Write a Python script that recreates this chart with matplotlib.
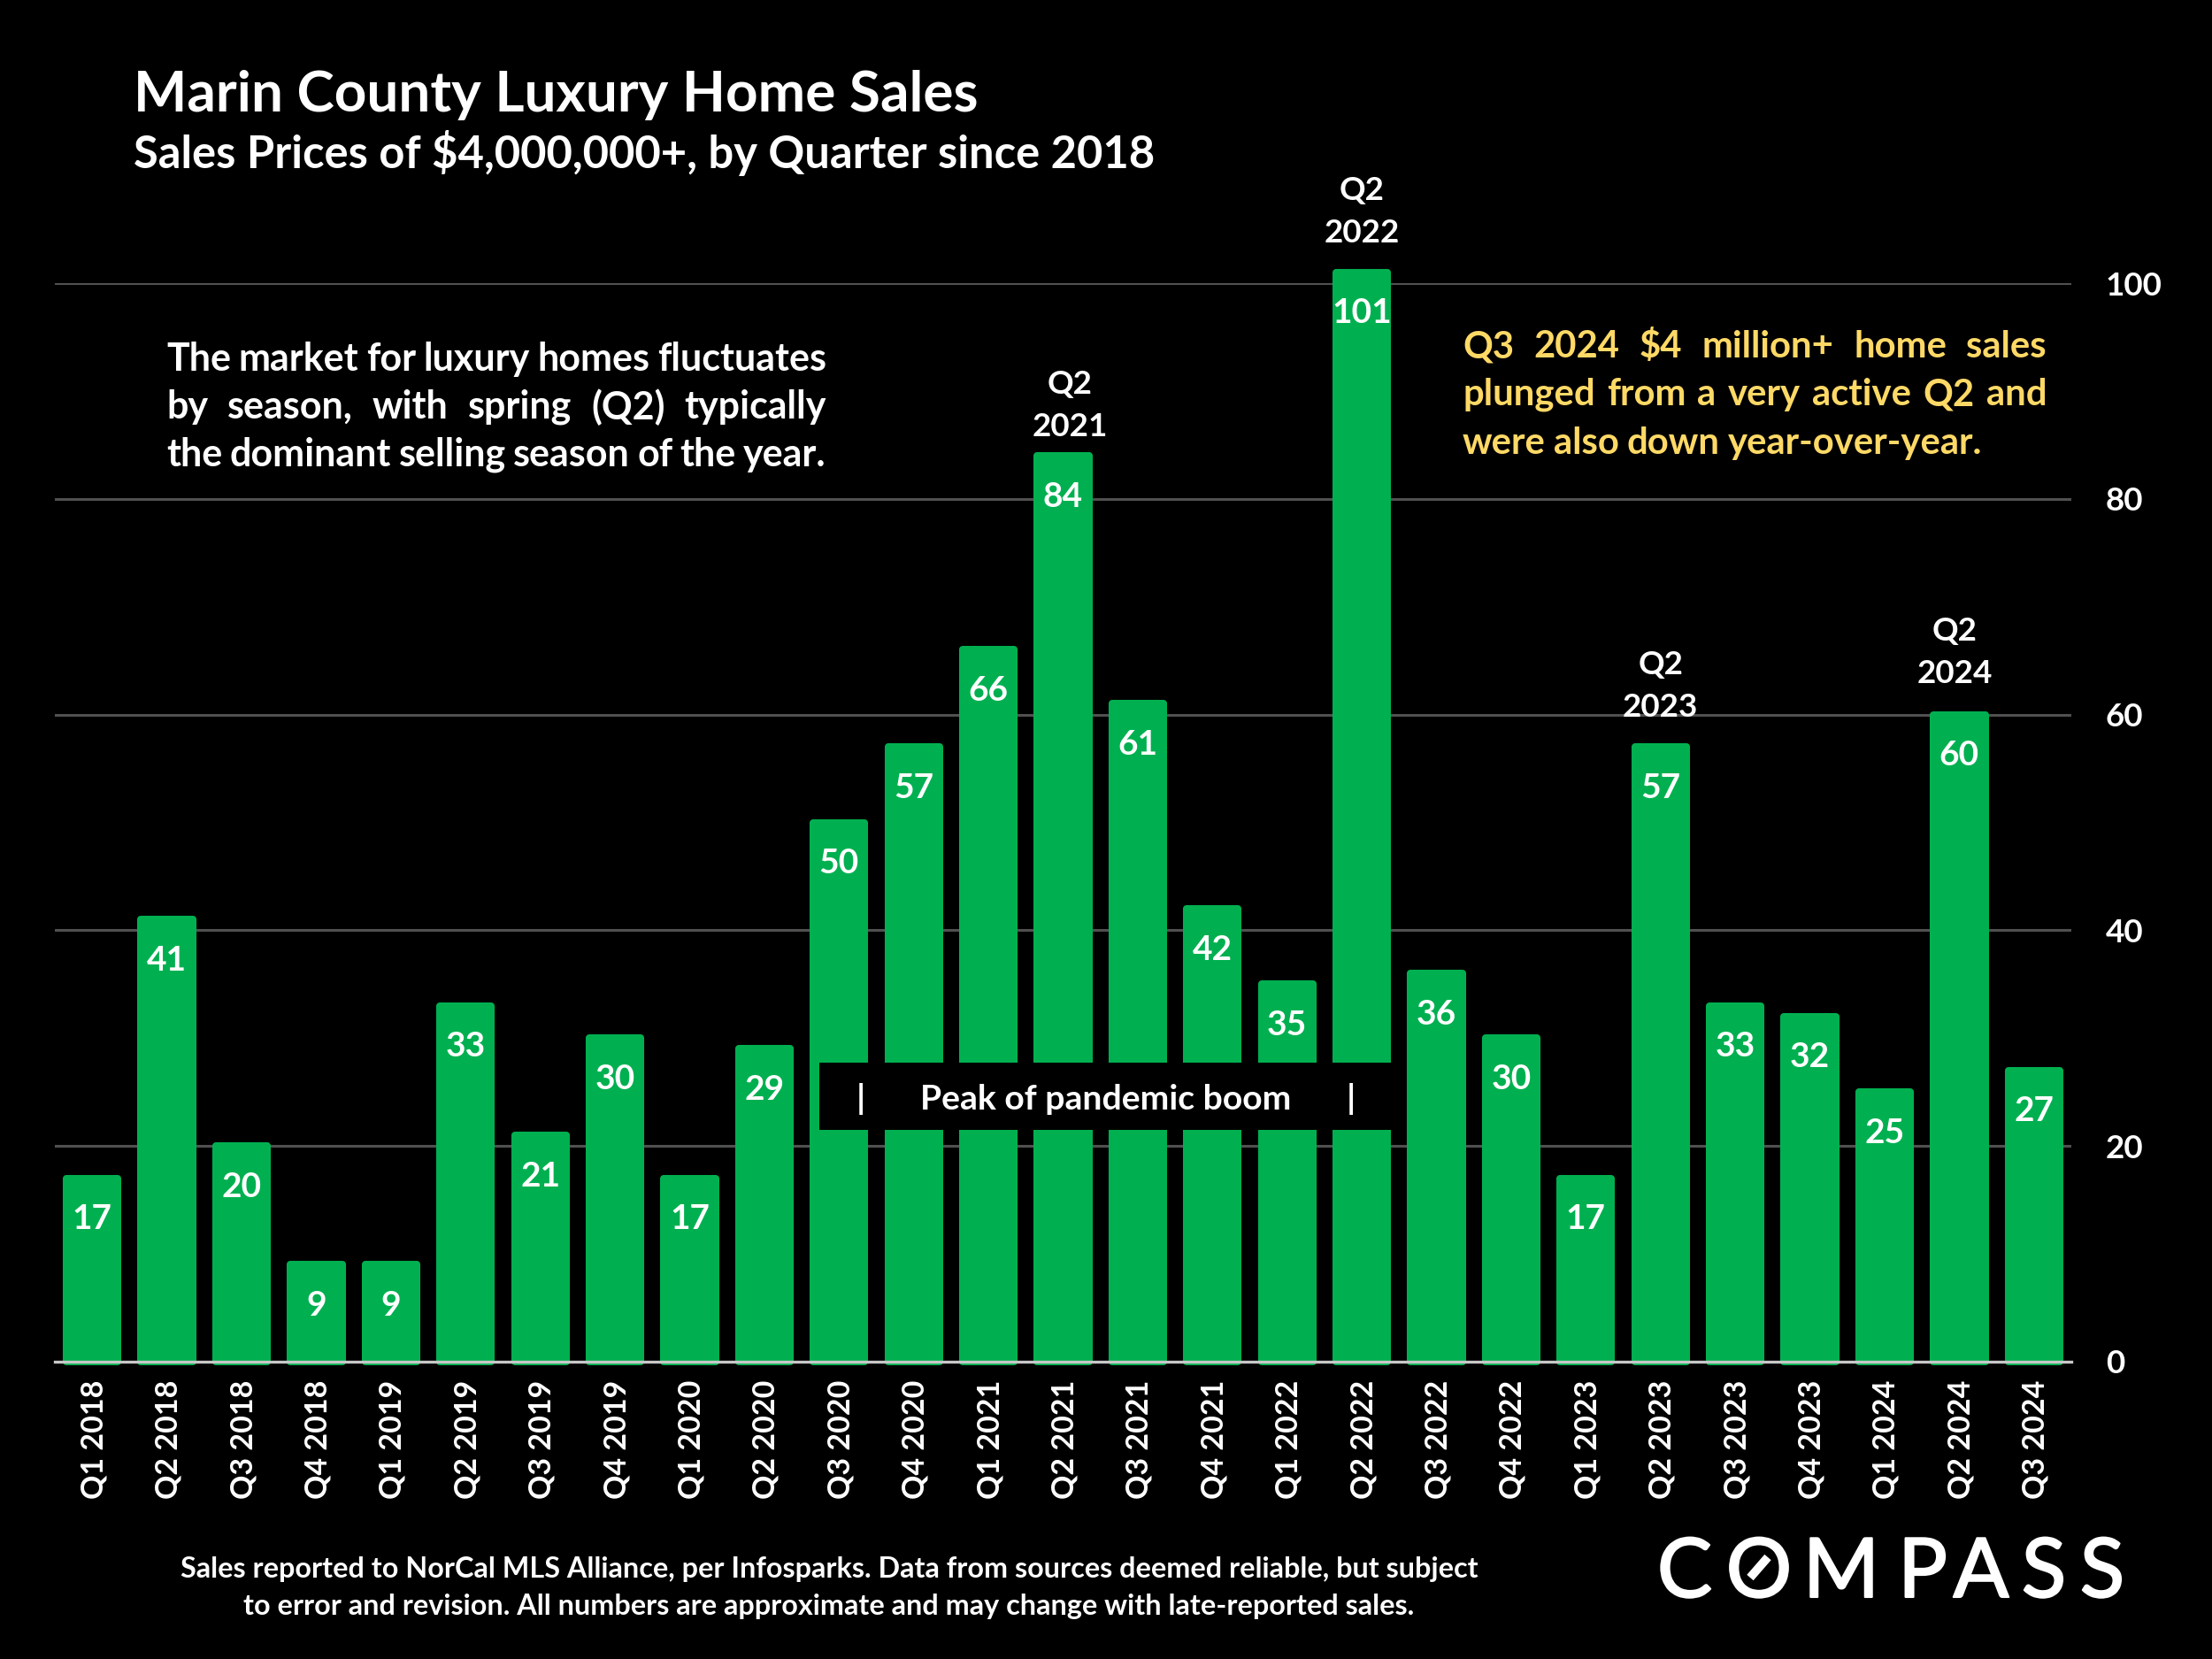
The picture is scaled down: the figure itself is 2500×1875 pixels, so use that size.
import matplotlib
matplotlib.use("Agg")
import matplotlib.pyplot as plt
import matplotlib.patheffects as pe
from matplotlib.patches import Rectangle
from matplotlib.transforms import Affine2D

# данные
quarters = ["Q1 2018", "Q2 2018", "Q3 2018", "Q4 2018", "Q1 2019", "Q2 2019", "Q3 2019", "Q4 2019", "Q1 2020",
            "Q2 2020", "Q3 2020", "Q4 2020", "Q1 2021", "Q2 2021", "Q3 2021", "Q4 2021", "Q1 2022", "Q2 2022",
            "Q3 2022", "Q4 2022", "Q1 2023", "Q2 2023", "Q3 2023", "Q4 2023", "Q1 2024", "Q2 2024", "Q3 2024"]
sales = [17, 41, 20, 9, 9, 33, 21, 30, 17, 29, 50, 57, 66, 84, 61, 42, 35, 101, 36, 30, 17, 57, 33, 32, 25, 60, 27]
y_ticks = [0, 20, 40, 60, 80, 100]
peak_quarters = ["Q2 2021", "Q2 2022", "Q2 2023", "Q2 2024"]

# сдвиги подписей пиков в пикселях
peak_dx = {"Q2 2021": 8, "Q2 2022": 0, "Q2 2023": 0, "Q2 2024": -5}
peak_dy = {"Q2 2021": 16, "Q2 2022": 28, "Q2 2023": 28, "Q2 2024": 30}

W, H = 2500, 1875
GREEN = "#00B050"
YELLOW = "#FFD966"

plt.rcParams["font.family"] = ["Lato", "DejaVu Sans"]
fig = plt.figure(figsize=(W / 100, H / 100), dpi=100, facecolor="black")

# оси: 100 единиц = 1219 px
x0, x1, y0, y100 = 62, 2341, 1539, 320
ax = fig.add_axes([x0 / W, 1 - y0 / H, (x1 - x0) / W, (y0 - y100) / H], facecolor="black")
ax.set_xlim(-0.5, len(sales) - 0.5)
ax.set_ylim(0, 100)
px = Affine2D().scale(1, -1).translate(0, H)

ax.set_yticks(y_ticks)
ax.yaxis.tick_right()
ax.tick_params(axis="y", length=0, pad=28, labelsize=26.5, labelcolor="white")
for lab in ax.get_yticklabels():
    lab.set_fontweight("bold")
ax.grid(axis="y", color="#505050", linewidth=2.2, zorder=0)
ax.set_axisbelow(True)
for s in ["top", "left", "right"]:
    ax.spines[s].set_visible(False)
ax.spines["bottom"].set_color("#c8c8c8")
ax.spines["bottom"].set_linewidth(2.4)
ax.spines["bottom"].set_zorder(6)

x = list(range(len(sales)))
ax.bar(x, sales, width=0.69, color=GREEN, edgecolor=GREEN, linewidth=5.8, joinstyle="round", zorder=3, clip_on=False)

ax.set_xticks(x)
ax.set_xticklabels(quarters, rotation=90, fontsize=24.5, color="white", fontweight="bold")
ax.tick_params(axis="x", length=0, pad=15)
for lab in ax.get_xticklabels():
    lab.set_transform(lab.get_transform() + Affine2D().translate(2, 0))

for i, v in enumerate(sales):
    ax.annotate(str(v), (i, v), xytext=(0, -46), textcoords="offset pixels", ha="center", va="center",
                color="white", fontsize=28, fontweight="bold", zorder=4, annotation_clip=False)
    if quarters[i] in peak_quarters:
        q, year = quarters[i].split()
        ax.annotate(q + "\n" + year, (i, v), xytext=(peak_dx[quarters[i]], peak_dy[quarters[i]]),
                    textcoords="offset pixels", ha="center", va="bottom", color="white", fontsize=26.5,
                    fontweight="bold", linespacing=1.55, annotation_clip=False)

# плашка "Peak of pandemic boom"
ax.add_patch(Rectangle((926, 1201), 660, 76, transform=px, facecolor="black", edgecolor="none", zorder=5, clip_on=False))
for xp, label in [(973, "|"), (1250, "Peak of pandemic boom"), (1527, "|")]:
    ax.text(xp, 1242, label, transform=px, ha="center", va="center", color="white", fontsize=28.2, fontweight="bold",
            zorder=7, clip_on=False)

# заголовки
fig.text(151 / W, 1 - 108 / H, "Marin County Luxury Home Sales", color="white", fontsize=46, fontweight="bold", va="center")
fig.text(151 / W, 1 - 173 / H, "Sales Prices of $4,000,000+, by Quarter since 2018", color="white", fontsize=36.5,
         fontweight="bold", va="center")


def justified(lines, left, right, ys, color, fontsize, last_left=False):
    renderer = fig.canvas.get_renderer()
    for k, (line, yp) in enumerate(zip(lines, ys)):
        words = line.split()
        items = [ax.text(0, yp, w, transform=px, color=color, fontsize=fontsize, fontweight="bold", va="center",
                         ha="left", clip_on=False, zorder=7) for w in words]
        widths = [t.get_window_extent(renderer).width for t in items]
        if last_left and k == len(lines) - 1:
            gap = fontsize * 0.3
        else:
            gap = (right - left - sum(widths)) / (len(words) - 1)
        cur = left
        for t, w in zip(items, widths):
            t.set_x(cur)
            cur += w + gap


justified(["The market for luxury homes fluctuates", "by season, with spring (Q2) typically",
           "the dominant selling season of the year."], 188, 934, [406, 460, 514], "white", 31)
justified(["Q3 2024 $4 million+ home sales", "plunged from a very active Q2 and",
           "were also down year-over-year."], 1653, 2313, [392, 446, 501], YELLOW, 30.2, last_left=True)

# сноска
fig.text(937 / W, 1 - 1774 / H, "Sales reported to NorCal MLS Alliance, per Infosparks. Data from sources deemed reliable, but subject",
         color="white", fontsize=23.3, fontweight="bold", ha="center", va="center")
fig.text(937 / W, 1 - 1815 / H, "to error and revision. All numbers are approximate and may change with late-reported sales.",
         color="white", fontsize=23.3, fontweight="bold", ha="center", va="center")

# логотип
for xp, ch in zip([1904, 1988, 2081, 2173, 2239, 2310, 2376], "COMPASS"):
    fig.text(xp / W, 1 - 1805 / H, ch, color="white", fontsize=67, ha="center", va="baseline",
             path_effects=[pe.withStroke(linewidth=1.5, foreground="white")])
ax.plot([1978, 1998], [1783, 1760], transform=px, color="white", linewidth=7, clip_on=False, solid_capstyle="butt", zorder=7)

fig.savefig("out.png", dpi=100, facecolor="black")
